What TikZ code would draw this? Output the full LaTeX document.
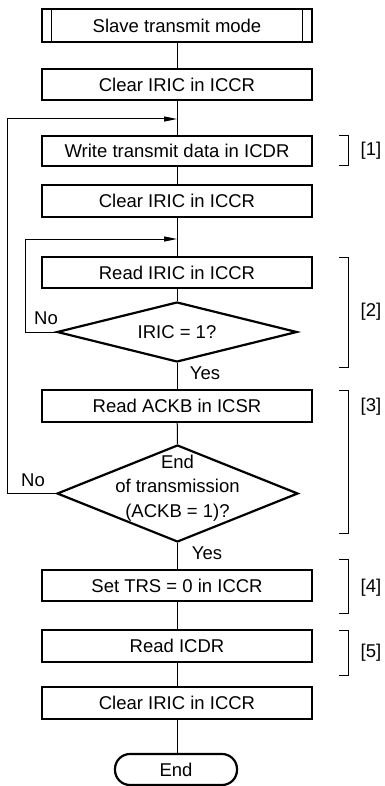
\documentclass[tikz,border=0pt]{standalone}
\usepackage{fontspec}
\setmainfont{Liberation Sans}
\usetikzlibrary{arrows.meta,shapes.geometric}
\begin{document}
\begin{tikzpicture}[x=1pt,y=-1pt,
  font=\fontsize{18.5}{24.5}\selectfont,
  box/.style={draw, line width=2.2pt, minimum width=270pt, minimum height=31pt, inner sep=0pt, anchor=center},
  dia/.style={draw, diamond, line width=2.2pt, inner sep=0pt},
  term/.style={draw, line width=2.2pt, rounded corners=15pt, minimum width=122pt, minimum height=31pt, inner sep=0pt},
  conn/.style={line width=1pt},
  arr/.style={line width=1pt, -{Triangle[length=13pt,width=5pt]}},
  brk/.style={line width=1pt},
  lbl/.style={inner sep=0pt}]
\useasboundingbox (0,0) rectangle (384,786);
\node[box, minimum height=33pt] (b1) at (177,25.5) {Slave transmit mode};
\draw[conn] ([xshift=11pt]b1.north west) -- ([xshift=11pt]b1.south west);
\draw[conn] ([xshift=-11pt]b1.north east) -- ([xshift=-11pt]b1.south east);
\node[box] (b2) at (177,84.5) {Clear IRIC in ICCR};
\node[box, minimum height=30pt] (b3) at (177,151) {Write transmit data in ICDR};
\node[box, minimum height=32pt] (b4) at (177,201) {Clear IRIC in ICCR};
\node[box] (b5) at (177,272.5) {Read IRIC in ICCR};
\node[dia, minimum width=240pt, minimum height=60pt] (d1) at (177,332) {};
\node[lbl] (t1) at (177,332) {IRIC = 1?};
\node[box, minimum height=32pt] (b6) at (177,406) {Read ACKB in ICSR};
\node[dia, minimum width=241pt, minimum height=97pt] (d2) at (177.5,493.5) {};
\node[lbl, align=center] (t2) at (177.5,488) {End\\of transmission\\(ACKB = 1)?};
\node[box] (b7) at (177,585.5) {Set TRS = 0 in ICCR};
\node[box, minimum height=32pt] (b8) at (177,646) {Read ICDR};
\node[box, minimum height=32pt] (b9) at (177,703) {Clear IRIC in ICCR};
\node[term] (e) at (176,769.5) {End};

\draw[conn] (b1) -- (b2);
\draw[conn] (b2) -- (b3);
\draw[conn] (b3) -- (b4);
\draw[conn] (b4) -- (b5);
\draw[conn] (b5) -- (d1.north);
\draw[conn] (d1.south) -- (b6);
\draw[conn] (b6) -- (d2.north);
\draw[conn] (d2.south) -- (b7.north -| d2.south);
\draw[conn] (b7) -- (b8);
\draw[conn] (b8) -- (b9);
\draw[conn] (b9.south) -- (b9.south |- e.north);

\coordinate (j1) at (177,239);
\coordinate (j2) at (177,119);
\draw[arr] (d1.west) -- (25,332) -- (25,239) -- (j1);
\draw[arr] (d2.west) -- (7,493.5) -- (7,119) -- (j2);

\node[lbl] (no1) at (46,318) {No};
\node[lbl] (yes1) at (205,373) {Yes};
\node[lbl] (no2) at (33,480) {No};
\node[lbl] (yes2) at (207,553) {Yes};

\draw[brk] (339,136) -- (348,136) -- (348,166) -- (339,166);
\draw[brk] (339,257) -- (348,257) -- (348,367) -- (339,367);
\draw[brk] (339,390) -- (348,390) -- (348,533) -- (339,533);
\draw[brk] (339,559) -- (348,559) -- (348,613) -- (339,613);
\draw[brk] (339,630) -- (348,630) -- (348,675) -- (339,675);
\node[lbl] (l1) at (371,151) {[1]};
\node[lbl] (l2) at (371,312) {[2]};
\node[lbl] (l3) at (371,407) {[3]};
\node[lbl] (l4) at (371,588) {[4]};
\node[lbl] (l5) at (371,653) {[5]};
\end{tikzpicture}
\end{document}
